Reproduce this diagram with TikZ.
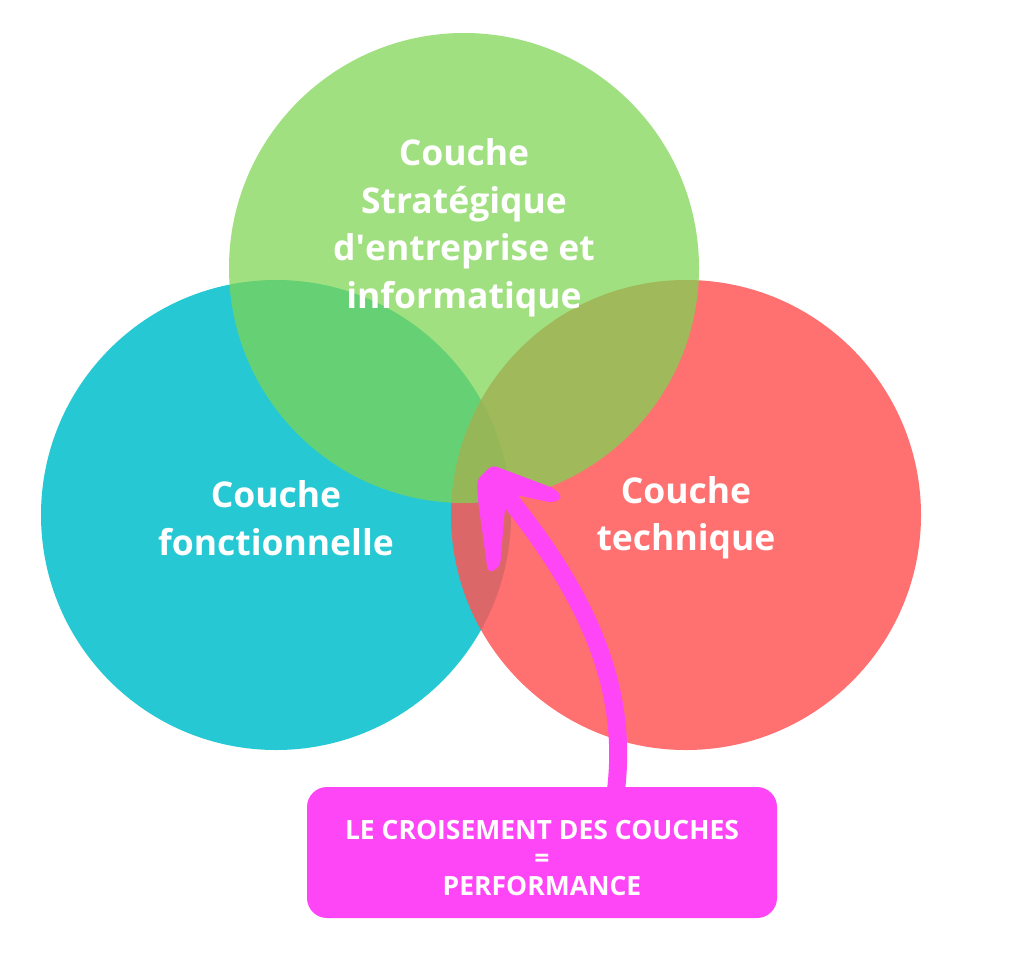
\documentclass[tikz,border=0pt]{standalone}
\usepackage{fontspec}
\setmainfont{Open Sans}
\definecolor{teal1}{RGB}{38,201,211}
\definecolor{red1}{RGB}{255,85,85}
\definecolor{green1}{RGB}{125,213,82}
\definecolor{pink1}{RGB}{255,70,246}
\tikzset{
  bigtxt/.style={text=white, align=center, font=\fontsize{35.5}{47.5}\selectfont\bfseries},
  boxtxt/.style={text=white, align=center, font=\fontsize{26.5}{28}\selectfont\bfseries},
}
\begin{document}
\begin{tikzpicture}[x=1pt,y=-1pt]
\useasboundingbox (0,0) rectangle (1024,952);
\fill[white] (0,0) rectangle (1024,952);
% circles
\fill[teal1] (276,515) circle[radius=235];
\fill[red1, fill opacity=0.84] (686,515) circle[radius=235];
\fill[green1, fill opacity=0.73] (464,268) circle[radius=235];
% labels
\node[bigtxt] (top) at (464,228) {Couche\\Stratégique\\d\textquotesingle entreprise et\\informatique};
\node[bigtxt] (left) at (276,518) {Couche\\fonctionnelle};
\node[bigtxt] (right) at (686,518) {Couche\\technique};
% box
\node[fill=pink1, rounded corners=20, minimum width=470, minimum height=131, inner sep=0] (box) at (542,852.5) {};
\node[boxtxt] (boxt) at (542,858) {LE CROISEMENT DES COUCHES\\=\\PERFORMANCE};
% arrow
\coordinate (start) at (616,790);
\coordinate (head) at (510,500);
\draw[pink1, line width=18] (start) .. controls (628,690) and (590,600) .. (head);
\fill[pink1, rounded corners=5] (477,480) -- (492,465) -- (553,488) -- (563,497) -- (553,503) -- (517,495) -- (505,508) -- (500,567) -- (488,573) -- (478,500) -- cycle;
\end{tikzpicture}
\end{document}
